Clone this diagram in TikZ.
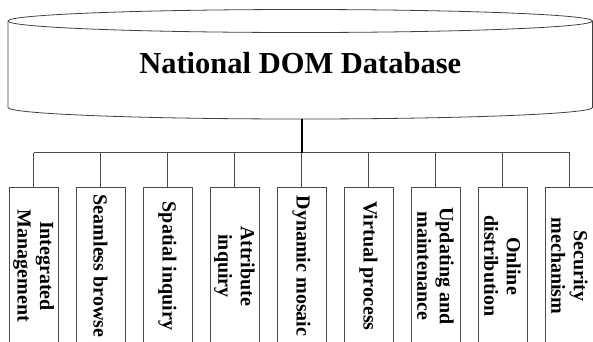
\documentclass[tikz,border=0pt]{standalone}
\usepackage{fontspec}
\setmainfont{Liberation Serif}
\begin{document}
\begin{tikzpicture}[x=1pt,y=-1pt,
  dbline/.style={draw=black!75,line width=0.8pt},
  busline/.style={draw=black!70,line width=0.8pt},
  trunkline/.style={draw=black,line width=1.3pt},
  fbox/.style={draw=black!70,line width=0.8pt,minimum width=49pt,minimum height=158pt,inner sep=0pt},
  flabel/.style={rotate=-90,align=center,font=\fontsize{20}{22.5}\selectfont\bfseries},
  title/.style={font=\fontsize{30.5}{36}\selectfont\bfseries}]
\clip (0,0) rectangle (593,341);
\useasboundingbox (0,0) rectangle (593,341);
% cylinder
\draw[dbline] (8,21) arc[start angle=180,end angle=-180,x radius=292.25pt,y radius=11.5pt];
\draw[dbline] (8,21) -- (8,107.5) arc[start angle=180,end angle=360,x radius=292.25pt,y radius=11.5pt] -- (592.5,21);
\node[title] (db) at (300.25,63) {National DOM Database};
\coordinate (dbbot) at (302,119);
\coordinate (bus) at (302,152.5);
% boxes
\foreach \i/\name/\txt in {0/b1/{Integrated\\Management},1/b2/{Seamless browse},2/b3/{Spatial inquiry},3/b4/{Attribute\\inquiry},4/b5/{Dynamic mosaic},5/b6/{Virtual process},6/b7/{Updating and\\maintenance},7/b8/{Online\\distribution},8/b9/{Security\\mechanism}}{
  \node[fbox] (\name) at ({33.5+67*\i},266) {};
  \node[flabel] (\name t) at (\name.center) {\txt};
}
\draw[busline] (b1.north |- bus) -- (b9.north |- bus);
\foreach \name in {b1,b2,b3,b4,b6,b7,b8,b9}{
  \draw[busline] (\name.north |- bus) -- (\name.north);
}
\draw[busline] (b5.north |- bus) -- (b5.north);
\draw[trunkline] (dbbot) -- (bus);
\end{tikzpicture}
\end{document}
